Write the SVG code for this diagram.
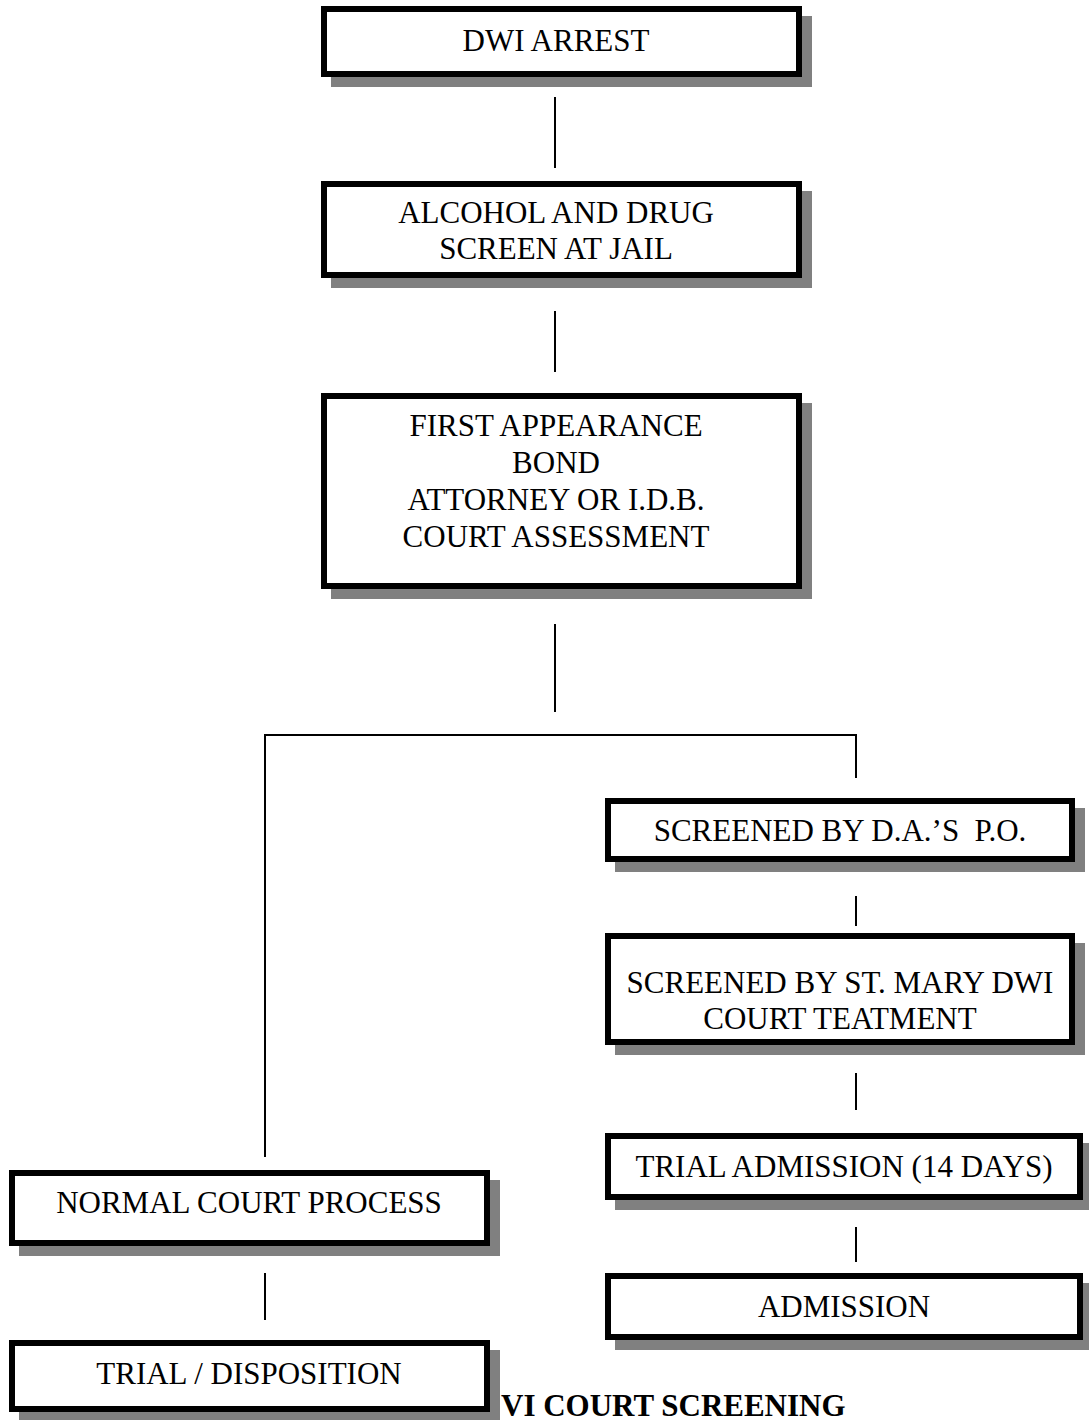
<svg xmlns="http://www.w3.org/2000/svg" width="1089" height="1420" viewBox="0 0 1089 1420">
<style>
.sh{fill:#808080}
.bx{fill:#fff;stroke:#000;stroke-width:6}
.t{font-family:"Liberation Serif","Times New Roman",serif;font-size:31px;fill:#000;text-anchor:middle;white-space:pre}
.c{stroke:#000;stroke-width:2;fill:none}
.ttl{font-family:"Liberation Serif","Times New Roman",serif;font-size:31px;font-weight:bold;fill:#000}
</style>
<rect width="1089" height="1420" fill="#fff"/>
<text class="ttl" x="501" y="1416">VI COURT SCREENING</text>
<g id="connectors">
<line class="c" x1="555" y1="97" x2="555" y2="168"/>
<line class="c" x1="555" y1="311" x2="555" y2="372"/>
<line class="c" x1="555" y1="624" x2="555" y2="712"/>
<polyline class="c" points="265,1157 265,735 856,735 856,778"/>
<line class="c" x1="856" y1="896" x2="856" y2="926"/>
<line class="c" x1="856" y1="1073" x2="856" y2="1110"/>
<line class="c" x1="856" y1="1227" x2="856" y2="1262"/>
<line class="c" x1="265" y1="1273" x2="265" y2="1320"/>
</g>
<g id="n1">
<rect class="sh" x="331" y="16" width="481" height="71"/>
<rect class="bx" x="324" y="9" width="475" height="65"/>
<text class="t" x="556" y="51">DWI ARREST</text>
</g>
<g id="n2">
<rect class="sh" x="331" y="191" width="481" height="97"/>
<rect class="bx" x="324" y="184" width="475" height="91"/>
<text class="t" x="556" y="223">ALCOHOL AND DRUG</text>
<text class="t" x="556" y="259">SCREEN AT JAIL</text>
</g>
<g id="n3">
<rect class="sh" x="331" y="403" width="481" height="196"/>
<rect class="bx" x="324" y="396" width="475" height="190"/>
<text class="t" x="556" y="436">FIRST APPEARANCE</text>
<text class="t" x="556" y="473">BOND</text>
<text class="t" x="556" y="510">ATTORNEY OR I.D.B.</text>
<text class="t" x="556" y="547">COURT ASSESSMENT</text>
</g>
<g id="n4">
<rect class="sh" x="615" y="808" width="470" height="64"/>
<rect class="bx" x="608" y="801" width="464" height="58"/>
<text class="t" x="840" y="841">SCREENED BY D.A.’S  P.O.</text>
</g>
<g id="n5">
<rect class="sh" x="615" y="943" width="470" height="112"/>
<rect class="bx" x="608" y="936" width="464" height="106"/>
<text class="t" x="840" y="993">SCREENED BY ST. MARY DWI</text>
<text class="t" x="840" y="1029">COURT TEATMENT</text>
</g>
<g id="n6">
<rect class="sh" x="615" y="1143" width="478" height="67"/>
<rect class="bx" x="608" y="1136" width="472" height="61"/>
<text class="t" x="844" y="1177">TRIAL ADMISSION (14 DAYS)</text>
</g>
<g id="n7">
<rect class="sh" x="615" y="1283" width="478" height="67"/>
<rect class="bx" x="608" y="1276" width="472" height="61"/>
<text class="t" x="844" y="1317">ADMISSION</text>
</g>
<g id="n8">
<rect class="sh" x="19" y="1180" width="481" height="76"/>
<rect class="bx" x="12" y="1173" width="475" height="70"/>
<text class="t" x="249" y="1213">NORMAL COURT PROCESS</text>
</g>
<g id="n9">
<rect class="sh" x="19" y="1350" width="481" height="72"/>
<rect class="bx" x="12" y="1343" width="475" height="66"/>
<text class="t" x="249" y="1384">TRIAL / DISPOSITION</text>
</g>
</svg>
